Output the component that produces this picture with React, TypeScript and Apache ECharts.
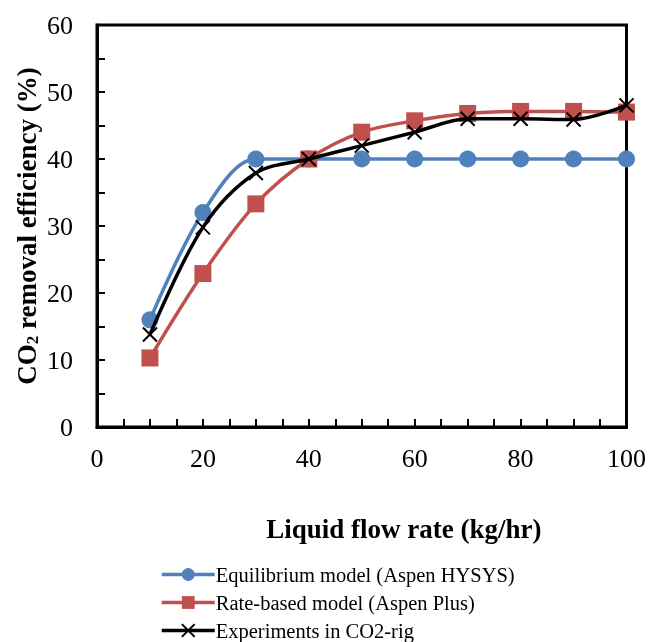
import React, { useEffect, useRef } from "react";
import * as echarts from "echarts";

const flowRates = [10, 20, 30, 40, 50, 60, 70, 80, 90, 100];
const equilibrium = [16, 32, 40, 40, 40, 40, 40, 40, 40, 40];
const rateBased = [10.3, 22.9, 33.3, 40, 44, 45.7, 46.8, 47.1, 47.1, 47];
const experiments = [13.8, 29.8, 37.9, 40, 42, 44, 46, 46, 45.9, 48];

const seriesNames = [
  "Equilibrium model (Aspen HYSYS)",
  "Rate-based model (Aspen Plus)",
  "Experiments in CO2-rig",
];

const FONT = "Liberation Serif";

const pairs = (ys: number[]) => flowRates.map((x, i) => [x, ys[i]]);

export default function App() {
  const ref = useRef<HTMLDivElement>(null);
  useEffect(() => {
    if (!ref.current) return;
    const chart = echarts.init(ref.current, undefined, { renderer: "svg" });
    const axisCommon = {
      axisLine: { show: true, onZero: false, lineStyle: { color: "#000", width: 3 } },
      axisTick: { show: true, inside: true, length: 8, lineStyle: { color: "#000", width: 2 } },
      minorTick: { show: true, length: 8, lineStyle: { color: "#000", width: 2 } },
      splitLine: { show: false },
      minorSplitLine: { show: false },
    };
    chart.setOption({
      animation: false,
      textStyle: { fontFamily: FONT, color: "#000" },
      grid: {
        left: 97,
        right: 21,
        top: 25,
        bottom: 215,
        show: true,
        borderColor: "#000",
        borderWidth: 3,
        containLabel: false,
      },
      xAxis: {
        type: "value",
        min: 0,
        max: 100,
        interval: 20,
        ...axisCommon,
        minorTick: { ...axisCommon.minorTick, splitNumber: 4 },
        axisLabel: { fontFamily: FONT, fontSize: 26, color: "#000", margin: 18 },
        name: "Liquid flow rate (kg/hr)",
        nameLocation: "middle",
        nameGap: 88,
        nameMoveOverlap: false,
        nameTextStyle: {
          fontFamily: FONT,
          fontSize: 27,
          fontWeight: "bold",
          color: "#000",
          padding: [0, 0, 0, 84],
        },
      },
      yAxis: {
        type: "value",
        min: 0,
        max: 60,
        interval: 10,
        ...axisCommon,
        minorTick: { ...axisCommon.minorTick, splitNumber: 2 },
        axisLabel: { fontFamily: FONT, fontSize: 26, color: "#000", margin: 24 },
        name: "{a|CO}{s|2}{a| removal efficiency (%)}",
        nameLocation: "middle",
        nameGap: 56,
        nameMoveOverlap: false,
        nameRotate: 90,
        nameTextStyle: {
          fontFamily: FONT,
          fontSize: 27,
          fontWeight: "bold",
          color: "#000",
          rich: {
            a: { fontFamily: FONT, fontSize: 27, fontWeight: "bold", color: "#000" },
            s: {
              fontFamily: FONT,
              fontSize: 17,
              fontWeight: "bold",
              color: "#000",
              verticalAlign: "bottom",
              padding: [12, 0, 0, 0],
            },
          },
        },
      },
      legend: seriesNames.map((n, i) => ({
        orient: "vertical",
        left: 155,
        top: 559 + i * 28,
        itemWidth: 53,
        itemHeight: 16,
        lineStyle: { width: 3.5 },
        textStyle: { fontFamily: FONT, fontSize: 20.5, color: "#000", padding: [0, 0, 0, -4] },
        data: [n],
      })),
      series: [
        {
          name: seriesNames[0],
          type: "line",
          data: pairs(equilibrium),
          smooth: 0.33,
          symbol: "circle",
          symbolSize: 17,
          lineStyle: { color: "#4F81BD", width: 3.5 },
          itemStyle: { color: "#4F81BD" },
          z: 2,
        },
        {
          name: seriesNames[1],
          type: "line",
          data: pairs(rateBased),
          smooth: 0.33,
          symbol: "rect",
          symbolSize: 17,
          lineStyle: { color: "#C0504D", width: 3.5 },
          itemStyle: { color: "#C0504D" },
          z: 3,
        },
        {
          name: seriesNames[2],
          type: "line",
          data: pairs(experiments),
          smooth: 0.33,
          symbol: "path://M0,0L10,10M10,0L0,10",
          symbolSize: 14,
          lineStyle: { color: "#000", width: 3.5 },
          itemStyle: { color: "rgba(0,0,0,0)", borderColor: "#000", borderWidth: 2 },
          z: 4,
        },
      ],
    });
    return () => chart.dispose();
  }, []);
  return (
    <div
      ref={ref}
      style={{ position: "fixed", left: 0, top: 0, width: 649, height: 642 }}
    />
  );
}
